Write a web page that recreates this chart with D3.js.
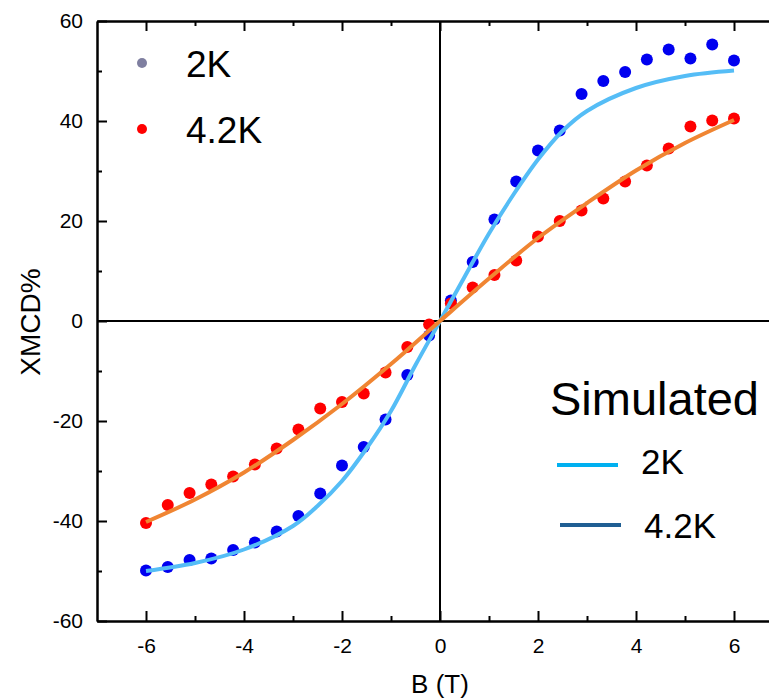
<!DOCTYPE html>
<html>
<head>
<meta charset="utf-8">
<script src="https://cdn.jsdelivr.net/npm/d3@7"></script>
<style>
  html, body { margin: 0; padding: 0; background: #fff; }
  svg { display: block; }
  text { font-family: "Liberation Sans", Arial, sans-serif; fill: #000; }
</style>
</head>
<body>
<svg id="chart" width="769" height="700"></svg>
<script>
// Measured field values (T)
const fieldB = [-6, -5.556, -5.111, -4.667, -4.222, -3.778, -3.333, -2.889, -2.444, -2.0,
  -1.556, -1.111, -0.667, -0.222, 0.222, 0.667, 1.111, 1.556, 2.0, 2.444,
  2.889, 3.333, 3.778, 4.222, 4.667, 5.111, 5.556, 6.0];

// Measured XMCD (%) at 2K and 4.2K
const xmcd2K = [-49.9, -49.2, -47.8, -47.5, -45.8, -44.3, -42.1, -39.0, -34.5, -28.9,
  -25.2, -19.7, -10.8, -2.9, 4.1, 11.8, 20.3, 27.9, 34.1, 38.1,
  45.4, 48.0, 49.8, 52.3, 54.3, 52.5, 55.3, 52.1];
const xmcd42K = [-40.4, -36.8, -34.4, -32.7, -31.1, -28.7, -25.5, -21.7, -17.5, -16.2,
  -14.5, -10.3, -5.2, -0.7, 3.5, 6.7, 9.2, 12.1, 16.9, 20.0,
  22.1, 24.5, 27.9, 31.1, 34.5, 38.9, 40.1, 40.5];

// Simulated curves
const simB2K = [-6, -5, -4, -3, -2.5, -2, -1.5, -1, -0.5, 0, 0.5, 1, 1.5, 2, 2.5, 3, 4, 5, 6];
const sim2K = [-50.0, -48.4, -45.7, -41.0, -37.0, -32.0, -25.5, -18.0, -8.8, 0,
  8.8, 17.5, 25.3, 32.3, 38.0, 42.0, 46.6, 49.0, 50.1];
const simB42K = [-6, -5, -4, -3, -2, -1, 0, 1, 2, 3, 4, 5, 6];
const sim42K = [-40.2, -35.7, -30.3, -23.8, -16.6, -8.6, 0, 8.5, 16.6, 23.6, 30.1, 35.6, 40.2];

// Axis ticks
const xMajor = [-6, -4, -2, 0, 2, 4, 6];
const xMinor = [-5, -3, -1, 1, 3, 5];
const yMajor = [-60, -40, -20, 0, 20, 40, 60];
const yMinor = [-50, -30, -10, 10, 30, 50];

const svg = d3.select("#chart");
const x = d3.scaleLinear().domain([-7, 7]).range([97, 783]);
const y = d3.scaleLinear().domain([-60, 60]).range([621, 21]);

const colors = {
  pts2K: "#0000f0", pts42K: "#ff0000",
  sim2K: "#55bdf6", sim42K: "#f08532",
  leg2K: "#7f7fa0", legLine2K: "#00b0f0", legLine42K: "#1f5e93"
};

// Plain hyphen-minus labels
const fmt = d => String(d);

// Zero lines
svg.append("line").attr("x1", x(-7)).attr("x2", x(7)).attr("y1", y(0)).attr("y2", y(0))
  .attr("stroke", "#000").attr("stroke-width", 2);
svg.append("line").attr("x1", x(0)).attr("x2", x(0)).attr("y1", y(60)).attr("y2", y(-60))
  .attr("stroke", "#000").attr("stroke-width", 2);

function styleAxis(g) {
  g.selectAll("path, line").attr("stroke", "#000").attr("stroke-width", 2);
  g.selectAll("text").attr("font-size", 21).attr("fill", "#000")
    .attr("font-family", "Liberation Sans, Arial, sans-serif");
}

// Left axis
svg.append("g").attr("transform", `translate(${x(-7)},0)`)
  .call(d3.axisLeft(y).tickValues(yMajor).tickSize(-10).tickSizeOuter(0).tickPadding(14)
    .tickFormat(fmt))
  .call(styleAxis);
svg.append("g").attr("transform", `translate(${x(-7)},0)`)
  .call(d3.axisLeft(y).tickValues(yMinor).tickSize(-5).tickSizeOuter(0).tickFormat(""))
  .call(styleAxis);

// Bottom axis
svg.append("g").attr("transform", `translate(0,${y(-60)})`)
  .call(d3.axisBottom(x).tickValues(xMajor).tickSize(-10).tickSizeOuter(0).tickPadding(17)
    .tickFormat(fmt))
  .call(styleAxis);
svg.append("g").attr("transform", `translate(0,${y(-60)})`)
  .call(d3.axisBottom(x).tickValues(xMinor).tickSize(-5).tickSizeOuter(0).tickFormat(""))
  .call(styleAxis);

// Top axis (ticks only)
svg.append("g").attr("transform", `translate(0,${y(60)})`)
  .call(d3.axisTop(x).tickValues(xMajor).tickSize(-10).tickSizeOuter(0).tickFormat(""))
  .call(styleAxis);
svg.append("g").attr("transform", `translate(0,${y(60)})`)
  .call(d3.axisTop(x).tickValues(xMinor).tickSize(-5).tickSizeOuter(0).tickFormat(""))
  .call(styleAxis);

// Axis titles
svg.append("text").attr("transform", `translate(40,322) rotate(-90)`)
  .attr("text-anchor", "middle").attr("font-size", 28).text("XMCD%");
svg.append("text").attr("x", x(0)).attr("y", 693)
  .attr("text-anchor", "middle").attr("font-size", 26).text("B (T)");

// Measured points
svg.append("g").selectAll("circle").data(fieldB).join("circle")
  .attr("cx", d => x(d)).attr("cy", (d, i) => y(xmcd2K[i])).attr("r", 6)
  .attr("fill", colors.pts2K);
svg.append("g").selectAll("circle").data(fieldB).join("circle")
  .attr("cx", d => x(d)).attr("cy", (d, i) => y(xmcd42K[i])).attr("r", 6)
  .attr("fill", colors.pts42K);

// Simulated curves
const line = d3.line().x(d => x(d[0])).y(d => y(d[1])).curve(d3.curveCatmullRom.alpha(0.5));
svg.append("path").datum(simB2K.map((b, i) => [b, sim2K[i]])).attr("d", line)
  .attr("fill", "none").attr("stroke", colors.sim2K).attr("stroke-width", 4);
svg.append("path").datum(simB42K.map((b, i) => [b, sim42K[i]])).attr("d", line)
  .attr("fill", "none").attr("stroke", colors.sim42K).attr("stroke-width", 4);

// Legend: measured
svg.append("circle").attr("cx", 142).attr("cy", 63).attr("r", 5).attr("fill", colors.leg2K);
svg.append("text").attr("x", 186).attr("y", 77).attr("font-size", 37).text("2K");
svg.append("circle").attr("cx", 142).attr("cy", 129).attr("r", 5).attr("fill", colors.pts42K);
svg.append("text").attr("x", 186).attr("y", 143).attr("font-size", 37).text("4.2K");

// Legend: simulated
svg.append("text").attr("x", 550).attr("y", 415).attr("font-size", 47).text("Simulated");
svg.append("line").attr("x1", 557).attr("x2", 618).attr("y1", 465).attr("y2", 465)
  .attr("stroke", colors.legLine2K).attr("stroke-width", 4);
svg.append("text").attr("x", 641).attr("y", 474).attr("font-size", 35).text("2K");
svg.append("line").attr("x1", 560).attr("x2", 621).attr("y1", 525).attr("y2", 525)
  .attr("stroke", colors.legLine42K).attr("stroke-width", 4);
svg.append("text").attr("x", 644).attr("y", 538).attr("font-size", 35).text("4.2K");
</script>
</body>
</html>
